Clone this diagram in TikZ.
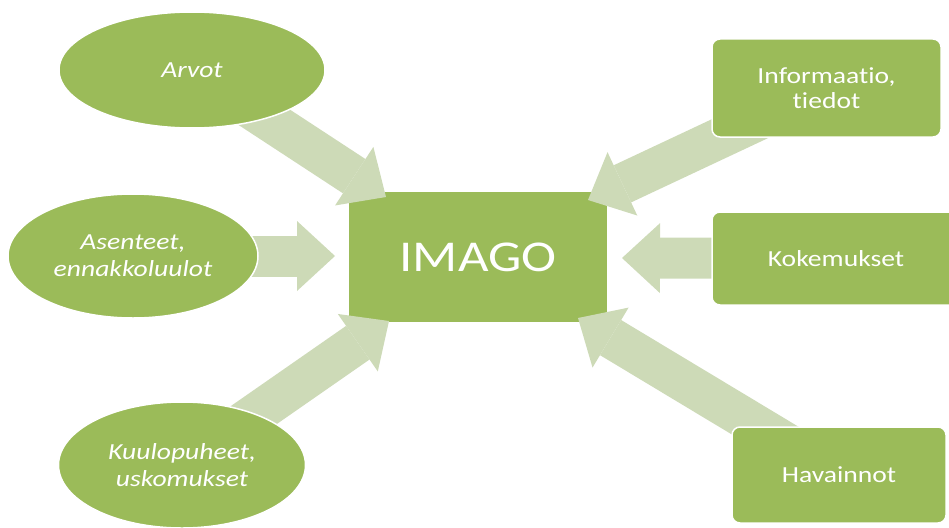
\documentclass[tikz,border=0pt]{standalone}
\usepackage{fontspec}
\setmainfont{Carlito}[FakeStretch=1.2,Ligatures={NoCommon,NoContextual}]
\usetikzlibrary{shapes.geometric,arrows.meta}
\definecolor{maingreen}{RGB}{155,187,89}
\definecolor{arrowgreen}{RGB}{205,218,183}
\pgfdeclarelayer{back}
\pgfdeclarelayer{mid}
\pgfsetlayers{back,mid,main}
\begin{document}
\begin{tikzpicture}[x=1pt,y=-1pt,
  oval/.style={ellipse, fill=maingreen, draw=white, line width=1.5pt, inner sep=0pt, text=white, font=\fontsize{23}{27}\selectfont\itshape, align=center},
  card/.style={rectangle, rounded corners=8pt, fill=maingreen, draw=white, line width=1.5pt, inner sep=0pt, text=white, font=\fontsize{23}{25}\selectfont, align=center},
  core/.style={rectangle, fill=maingreen, inner sep=0pt, text=white, font=\fontsize{44}{50}\selectfont},
  flow/.style={arrowgreen, line width=41pt, -{Triangle[length=38pt,width=70pt,line width=0pt]}}]
\useasboundingbox (0,0) rectangle (949,527);
\begin{pgfonlayer}{back}
\node[core, minimum width=258pt, minimum height=130pt] (imago) at (478,257) {IMAGO};
\end{pgfonlayer}
\node[oval, minimum width=266pt, minimum height=116pt] (arvot) at (192,70) {Arvot};
\node[oval, minimum width=250pt, minimum height=124pt] (asenteet) at (133,256) {Asenteet,\\ennakkoluulot};
\node[oval, minimum width=247pt, minimum height=126pt] (kuulo) at (182,465) {Kuulopuheet,\\uskomukset};
\node[card, minimum width=229pt, minimum height=98pt] (info) at (826.5,88) {Informaatio,\\tiedot};
\node[card, minimum width=248pt, minimum height=93pt] (koke) at (836,258.5) {Kokemukset};
\node[card, minimum width=214pt, minimum height=96pt] (hava) at (839,475) {Havainnot};
\coordinate (t1) at (386,197);
\coordinate (t2) at (588,200);
\coordinate (t3) at (335,256);
\coordinate (t4) at (622,258);
\coordinate (t5) at (389,321);
\coordinate (t6) at (578,318);
\begin{pgfonlayer}{mid}
\draw[flow] (arvot.center) -- (t1);
\draw[flow] (info.center) -- (t2);
\draw[flow] (asenteet.center) -- (t3);
\draw[flow] (koke.center) -- (t4);
\draw[flow] (kuulo.center) -- (t5);
\draw[flow] (hava.center) -- (t6);
\end{pgfonlayer}
\end{tikzpicture}
\end{document}
